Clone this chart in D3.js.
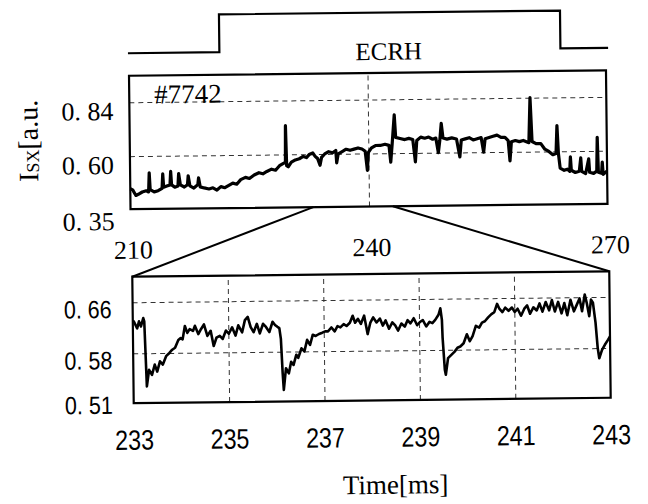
<!DOCTYPE html>
<html>
<head>
<meta charset="utf-8">
<script src="https://cdn.jsdelivr.net/npm/d3@7"></script>
<style>
  body { margin: 0; background: #fff; }
  svg { display: block; }
  .grid line { stroke: #333; stroke-width: 1; stroke-dasharray: 5,4; }
  .grid path { display: none; }
</style>
</head>
<body>
<div id="chart"></div>
<script>
// ---- data ----
// ECRH gate (time in ms, on/off)
const ecrhT = [209.9, 221.4, 221.4, 264.3, 264.3, 270.3];
const ecrhLevel = [0, 0, 1, 1, 0, 0];

// shot #7742, full window 210-270 ms
const topT = [210.0, 210.3, 210.7, 211.0, 211.5, 212.0, 212.3, 212.4, 212.5, 213.0, 213.5, 214.0, 214.1, 214.2,
  214.6, 215.0, 215.1, 215.2, 215.6, 216.0, 216.1, 216.3, 216.8, 217.2, 217.3, 217.5, 218.0, 218.5, 218.6, 218.8,
  219.3, 219.9, 220.4, 220.9, 221.4, 221.9, 222.4, 222.9, 223.4, 223.9, 224.5, 225.0, 225.6, 226.2, 226.7, 227.2,
  227.8, 228.3, 228.8, 229.3, 229.55, 229.6, 229.7, 229.9, 230.3, 230.8, 231.3, 231.8, 232.2, 232.6, 233.0, 233.3,
  233.6, 233.9, 234.1, 234.5, 235.0, 235.5, 235.9, 236.0, 236.2, 236.7, 237.2, 237.7, 238.2, 238.7, 239.2, 239.6,
  239.85, 240.0, 240.4, 240.9, 241.5, 242.1, 242.6, 242.8, 243.0, 243.3, 243.45, 244.0, 244.6, 245.1, 245.6, 245.9,
  246.1, 246.6, 247.1, 247.6, 248.1, 248.5, 248.8, 249.0, 249.2, 249.4, 249.9, 250.5, 251.1, 251.5, 251.7, 252.2,
  252.7, 253.2, 253.7, 254.2, 254.5, 254.7, 255.2, 255.7, 256.2, 256.7, 257.2, 257.6, 257.8, 258.0, 258.5, 259.0,
  259.5, 260.2, 260.4, 260.6, 261.1, 261.7, 262.2, 262.7, 263.2, 263.6, 263.75, 263.9, 264.1, 264.6, 265.0, 265.3,
  265.4, 265.5, 266.0, 266.5, 266.7, 266.8, 267.3, 267.7, 267.8, 268.3, 268.7, 268.8, 268.9, 269.3, 269.4, 269.5, 270.0];
const topV = [0.455, 0.45, 0.425, 0.43, 0.44, 0.445, 0.44, 0.525, 0.45, 0.44, 0.445, 0.455, 0.52, 0.46,
  0.465, 0.47, 0.53, 0.47, 0.46, 0.465, 0.52, 0.47, 0.46, 0.47, 0.51, 0.465, 0.455, 0.47, 0.50, 0.46,
  0.455, 0.45, 0.455, 0.445, 0.46, 0.455, 0.465, 0.475, 0.47, 0.49, 0.50, 0.495, 0.51, 0.52, 0.515, 0.525,
  0.535, 0.53, 0.55, 0.56, 0.565, 0.728, 0.55, 0.545, 0.565, 0.575, 0.58, 0.59, 0.585, 0.60, 0.605, 0.59,
  0.58, 0.55, 0.585, 0.60, 0.61, 0.605, 0.615, 0.56, 0.60, 0.61, 0.62, 0.615, 0.62, 0.625, 0.62, 0.61,
  0.525, 0.605, 0.625, 0.635, 0.635, 0.64, 0.635, 0.56, 0.64, 0.77, 0.67, 0.665, 0.66, 0.665, 0.66, 0.56,
  0.655, 0.67, 0.665, 0.67, 0.66, 0.665, 0.60, 0.655, 0.73, 0.665, 0.66, 0.665, 0.66, 0.58, 0.655, 0.66,
  0.665, 0.655, 0.66, 0.665, 0.60, 0.66, 0.665, 0.67, 0.675, 0.665, 0.665, 0.65, 0.56, 0.645, 0.65, 0.645,
  0.65, 0.64, 0.84, 0.645, 0.635, 0.635, 0.61, 0.60, 0.585, 0.59, 0.715, 0.59, 0.525, 0.515, 0.52, 0.51,
  0.575, 0.515, 0.505, 0.51, 0.57, 0.51, 0.50, 0.565, 0.505, 0.50, 0.51, 0.66, 0.505, 0.50, 0.55, 0.495, 0.51];

// zoomed window 233-243 ms
const zoomT = [233.00, 233.02, 233.09, 233.13, 233.17, 233.22, 233.24, 233.28, 233.33, 233.39, 233.45, 233.50,
  233.56, 233.62, 233.69, 233.76, 233.82, 233.88, 233.95, 234.00, 234.04, 234.09, 234.14, 234.19, 234.26, 234.30,
  234.37, 234.43, 234.49, 234.56, 234.63, 234.69, 234.75, 234.82, 234.88, 234.95, 235.01, 235.08, 235.15, 235.21,
  235.29, 235.35, 235.41, 235.47, 235.53, 235.60, 235.66, 235.73, 235.79, 235.86, 235.93, 235.98, 236.03, 236.07,
  236.10, 236.13, 236.15, 236.20, 236.26, 236.31, 236.36, 236.42, 236.46, 236.53, 236.59, 236.65, 236.71, 236.77,
  236.83, 236.90, 236.97, 237.03, 237.09, 237.16, 237.23, 237.29, 237.35, 237.42, 237.48, 237.55, 237.61, 237.66,
  237.72, 237.78, 237.85, 237.92, 237.98, 238.04, 238.11, 238.18, 238.24, 238.30, 238.37, 238.44, 238.50, 238.56,
  238.63, 238.70, 238.76, 238.82, 238.89, 238.96, 239.02, 239.08, 239.15, 239.22, 239.28, 239.34, 239.41, 239.45,
  239.48, 239.49, 239.53, 239.55, 239.60, 239.67, 239.74, 239.80, 239.86, 239.93, 240.00, 240.06, 240.12, 240.19,
  240.26, 240.32, 240.38, 240.45, 240.52, 240.58, 240.64, 240.69, 240.75, 240.81, 240.88, 240.95, 241.01, 241.07,
  241.14, 241.21, 241.27, 241.33, 241.40, 241.47, 241.53, 241.59, 241.66, 241.73, 241.79, 241.85, 241.92, 241.99,
  242.05, 242.11, 242.18, 242.25, 242.31, 242.37, 242.42, 242.48, 242.52, 242.57, 242.61, 242.65, 242.70, 242.74,
  242.77, 242.83, 242.89, 242.96, 243.00];
const zoomV = [0.630, 0.630, 0.619, 0.630, 0.622, 0.635, 0.630, 0.528, 0.554, 0.546, 0.562, 0.551,
  0.567, 0.562, 0.575, 0.580, 0.585, 0.588, 0.600, 0.603, 0.601, 0.622, 0.611, 0.617, 0.614, 0.622,
  0.609, 0.617, 0.624, 0.606, 0.614, 0.590, 0.603, 0.606, 0.601, 0.614, 0.609, 0.619, 0.606, 0.622,
  0.611, 0.630, 0.635, 0.619, 0.611, 0.624, 0.609, 0.624, 0.619, 0.611, 0.627, 0.622, 0.619, 0.617,
  0.600, 0.546, 0.520, 0.554, 0.546, 0.564, 0.559, 0.575, 0.570, 0.585, 0.580, 0.598, 0.590, 0.606,
  0.604, 0.607, 0.609, 0.611, 0.611, 0.617, 0.611, 0.619, 0.617, 0.622, 0.619, 0.624, 0.635, 0.624,
  0.630, 0.622, 0.635, 0.606, 0.624, 0.632, 0.624, 0.630, 0.619, 0.627, 0.614, 0.624, 0.619, 0.611,
  0.622, 0.617, 0.627, 0.622, 0.630, 0.619, 0.624, 0.627, 0.617, 0.624, 0.622, 0.627, 0.635, 0.645,
  0.627, 0.600, 0.549, 0.541, 0.567, 0.572, 0.577, 0.583, 0.585, 0.590, 0.604, 0.593, 0.601, 0.617,
  0.614, 0.622, 0.624, 0.630, 0.635, 0.638, 0.651, 0.643, 0.638, 0.645, 0.640, 0.645, 0.638, 0.643,
  0.632, 0.643, 0.648, 0.635, 0.645, 0.640, 0.651, 0.638, 0.653, 0.640, 0.656, 0.638, 0.653, 0.635,
  0.651, 0.632, 0.656, 0.638, 0.648, 0.658, 0.638, 0.664, 0.651, 0.630, 0.656, 0.651, 0.620, 0.580,
  0.564, 0.577, 0.585, 0.593, 0.598];

// axes
const topXTicks = [210, 240, 270];
const topYTicks = [0.35, 0.60, 0.84];
const topGridX = [240];
const topGridY = [0.60, 0.84];
const zoomXTicks = [233, 235, 237, 239, 241, 243];
const zoomYTicks = [0.51, 0.58, 0.66];
const zoomGridX = [235, 237, 239, 241];
const zoomGridY = [0.58, 0.66];

// ---- drawing ----
const SERIF = "'Liberation Serif', 'DejaVu Serif', serif";
const SANS = "'Liberation Sans', Arial, sans-serif";
const W = 648, H = 504;
const svg = d3.select("#chart").append("svg")
  .attr("width", W).attr("height", H);
svg.append("rect").attr("width", W).attr("height", H).attr("fill", "#fff");

// the scanned figure sits a little tilted
const g = svg.append("g").attr("transform", "rotate(-0.65,370,250)");

const topBox = {x0: 131, x1: 608, y0: 73, y1: 206.5};
const zoomBox = {x0: 132, x1: 609, y0: 274, y1: 400.5};

const xTop = d3.scaleLinear().domain([210, 270]).range([topBox.x0, topBox.x1]);
const yTop = d3.scaleLinear().domain([0.364, 0.958]).range([topBox.y1, topBox.y0]);
const xZoom = d3.scaleLinear().domain([233, 243]).range([zoomBox.x0, zoomBox.x1]);
const yZoom = d3.scaleLinear().domain([0.502, 0.700]).range([zoomBox.y1, zoomBox.y0]);
const yEcrh = d3.scaleLinear().domain([0, 1]).range([50.5, 12.7]);

const fmt = d => d3.format(".2f")(d).replace(".", ". ");

// ECRH trace
const ecrhData = ecrhT.map((t, i) => ({t: t, v: ecrhLevel[i]}));
g.append("path")
  .datum(ecrhData)
  .attr("fill", "none").attr("stroke", "#000").attr("stroke-width", 2.2)
  .attr("d", d3.line().x(d => xTop(d.t)).y(d => yEcrh(d.v)));
g.append("text")
  .style("font-family", SERIF).style("font-size", "25px")
  .attr("x", 391).attr("y", 60).attr("text-anchor", "middle")
  .text("ECRH");

// ---- top panel ----
const topG = g.append("g");
topG.append("g").attr("class", "grid")
  .attr("transform", "translate(" + topBox.x0 + ",0)")
  .call(d3.axisLeft(yTop).tickValues(topGridY).tickSize(-(topBox.x1 - topBox.x0)).tickFormat(""));
topG.append("g").attr("class", "grid")
  .attr("transform", "translate(0," + topBox.y1 + ")")
  .call(d3.axisBottom(xTop).tickValues(topGridX).tickSize(-(topBox.y1 - topBox.y0)).tickFormat(""));

const topData = topT.map((t, i) => ({t: t, v: topV[i]}));
topG.append("path")
  .datum(topData)
  .attr("fill", "none").attr("stroke", "#000").attr("stroke-width", 3.2)
  .attr("stroke-linejoin", "round")
  .attr("d", d3.line().x(d => xTop(d.t)).y(d => yTop(d.v)));

topG.append("rect")
  .attr("x", topBox.x0).attr("y", topBox.y0)
  .attr("width", topBox.x1 - topBox.x0).attr("height", topBox.y1 - topBox.y0)
  .attr("fill", "none").attr("stroke", "#000").attr("stroke-width", 2.2);

// y tick labels
const topYAxis = topG.append("g")
  .attr("transform", "translate(115,0)")
  .call(d3.axisLeft(yTop).tickValues(topYTicks).tickSize(0).tickPadding(0).tickFormat(fmt));
topYAxis.select(".domain").remove();
topYAxis.selectAll("text")
  .style("font-family", SERIF).style("font-size", "26px")
  .attr("dy", 17).attr("text-anchor", "end");

// x tick labels
const topXAxis = topG.append("g")
  .attr("transform", "translate(2,0)")
  .call(d3.axisBottom(xTop).tickValues(topXTicks).tickSize(0).tickFormat(d3.format("d")));
topXAxis.select(".domain").remove();
topXAxis.selectAll("text")
  .style("font-family", SERIF).style("font-size", "26px")
  .attr("y", 256).attr("dy", 0);

topG.append("text")
  .style("font-family", SERIF).style("font-size", "27px")
  .attr("x", 156).attr("y", 101).text("#7742");

// y title
const yt = g.append("text")
  .style("font-family", SERIF).style("font-size", "28px")
  .attr("transform", "translate(39,137) rotate(-90)")
  .attr("text-anchor", "middle");
yt.append("tspan").text("I");
yt.append("tspan").style("font-size", "18px").attr("dy", 1).text("SX");
yt.append("tspan").attr("dy", -1).text("[a.u.");

// connectors from the zoom window
g.append("line")
  .attr("x1", xTop(233)).attr("y1", topBox.y1).attr("x2", xZoom(233)).attr("y2", zoomBox.y0)
  .attr("stroke", "#000").attr("stroke-width", 2);
g.append("line")
  .attr("x1", xTop(243)).attr("y1", topBox.y1).attr("x2", xZoom(243)).attr("y2", zoomBox.y0)
  .attr("stroke", "#000").attr("stroke-width", 2);

// ---- zoom panel ----
const botG = g.append("g");
botG.append("g").attr("class", "grid")
  .attr("transform", "translate(" + zoomBox.x0 + ",0)")
  .call(d3.axisLeft(yZoom).tickValues(zoomGridY).tickSize(-(zoomBox.x1 - zoomBox.x0)).tickFormat(""));
botG.append("g").attr("class", "grid")
  .attr("transform", "translate(0," + zoomBox.y1 + ")")
  .call(d3.axisBottom(xZoom).tickValues(zoomGridX).tickSize(-(zoomBox.y1 - zoomBox.y0)).tickFormat(""));

const zoomData = zoomT.map((t, i) => ({t: t, v: zoomV[i]}));
botG.append("path")
  .datum(zoomData)
  .attr("fill", "none").attr("stroke", "#000").attr("stroke-width", 2.6)
  .attr("stroke-linejoin", "round")
  .attr("d", d3.line().x(d => xZoom(d.t)).y(d => yZoom(d.v)));

botG.append("rect")
  .attr("x", zoomBox.x0).attr("y", zoomBox.y0)
  .attr("width", zoomBox.x1 - zoomBox.x0).attr("height", zoomBox.y1 - zoomBox.y0)
  .attr("fill", "none").attr("stroke", "#000").attr("stroke-width", 2.2);

// narrow sans labels: squeeze Liberation Sans horizontally
const zoomYAxis = botG.append("g")
  .attr("transform", "translate(111,0)")
  .call(d3.axisLeft(yZoom).tickValues(zoomYTicks).tickSize(0).tickPadding(0).tickFormat(fmt));
zoomYAxis.select(".domain").remove();
zoomYAxis.selectAll("text")
  .style("font-family", SANS).style("font-size", "25px")
  .attr("x", 0).attr("dy", 15).attr("text-anchor", "end")
  .attr("transform", "scale(0.86,1)");

const zoomXAxis = botG.append("g")
  .call(d3.axisBottom(xZoom).tickValues(zoomXTicks).tickSize(0).tickFormat(d3.format("d")));
zoomXAxis.select(".domain").remove();
zoomXAxis.selectAll("text")
  .style("font-family", SANS).style("font-size", "28px")
  .attr("x", 0).attr("y", 447).attr("dy", 0)
  .attr("transform", "scale(0.83,1)");

g.append("text")
  .style("font-family", SERIF).style("font-size", "27px")
  .attr("x", 393).attr("y", 494).attr("text-anchor", "middle")
  .text("Time[ms]");
</script>
</body>
</html>
